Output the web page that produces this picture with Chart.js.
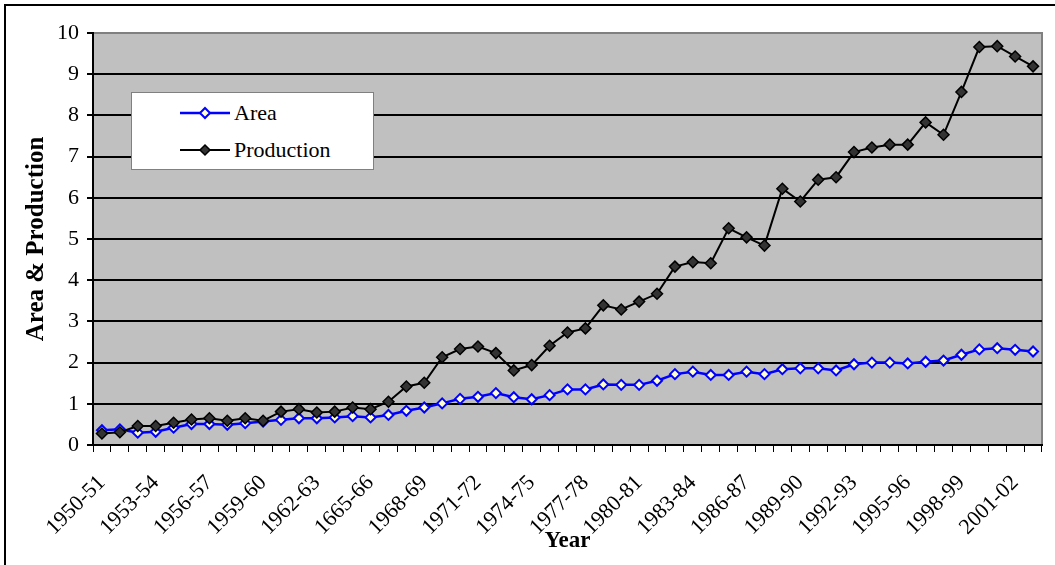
<!doctype html>
<html>
<head>
<meta charset="utf-8">
<title>Area &amp; Production</title>
<style>
  body { margin: 0; background: #fff; }
  #frame { position: absolute; left: 4px; top: 4px; width: 1200px; height: 700px;
           border-left: 2px solid #000; border-top: 2px solid #000; }
  #wrap { position: absolute; left: 0; top: 0; width: 1055px; height: 565px; }
  #legend { position: absolute; left: 131px; top: 92px; width: 241px; height: 76px;
            background: #fff; border: 1px solid #808080;
            font-family: "Liberation Serif", "Times New Roman", serif; font-size: 22px; color: #000; }
  #legend .row { position: absolute; left: 0; height: 30px; width: 100%; }
  #legend svg { position: absolute; left: 47px; top: 0; }
  #legend span { position: absolute; left: 102px; top: 2px; line-height: 26px; }
</style>
</head>
<body>
<div id="frame"></div>
<div id="wrap">
  <canvas id="chart" width="1055" height="565"></canvas>
  <div id="legend"></div>
</div>

<script src="https://cdn.jsdelivr.net/npm/chart.js"></script>
<script>

const years = ['1950-51','1951-52','1952-53','1953-54','1954-55','1955-56','1956-57','1957-58',
  '1958-59','1959-60','1960-61','1961-62','1962-63','1963-64','1964-65','1665-66','1966-67',
  '1967-68','1968-69','1969-70','1970-71','1971-72','1972-73','1973-74','1974-75','1975-76',
  '1976-77','1977-78','1978-79','1979-80','1980-81','1981-82','1982-83','1983-84','1984-85',
  '1985-86','1986-87','1987-88','1988-89','1989-90','1990-91','1991-92','1992-93','1993-94',
  '1994-95','1995-96','1996-97','1997-98','1998-99','1999-00','2000-01','2001-02','2002-03']

const area = [0.36, 0.38, 0.30, 0.32, 0.42, 0.51, 0.51, 0.49, 0.53, 0.57, 0.61, 0.65, 0.65, 0.67, 0.70, 0.67, 0.73,
  0.83, 0.91, 1.01, 1.12, 1.17, 1.26, 1.16, 1.11, 1.21, 1.35, 1.35, 1.47, 1.46, 1.46, 1.56, 1.72, 1.78,
  1.70, 1.70, 1.78, 1.72, 1.84, 1.86, 1.86, 1.81, 1.96, 2.00, 2.00, 1.98, 2.02, 2.05, 2.19, 2.32, 2.35, 2.31, 2.27]

const production = [0.28, 0.31, 0.46, 0.46, 0.54, 0.62, 0.65, 0.59, 0.65, 0.59, 0.81, 0.87, 0.79, 0.81, 0.91, 0.87, 1.05,
  1.42, 1.51, 2.13, 2.33, 2.39, 2.23, 1.81, 1.94, 2.41, 2.73, 2.83, 3.39, 3.29, 3.48, 3.67, 4.33, 4.44,
  4.41, 5.26, 5.04, 4.84, 6.22, 5.91, 6.44, 6.50, 7.11, 7.22, 7.29, 7.29, 7.83, 7.53, 8.57, 9.66, 9.68, 9.43, 9.19]

const yTicks = [0, 1, 2, 3, 4, 5, 6, 7, 8, 9, 10]

Chart.defaults.font.family = '"Liberation Serif", "Times New Roman", serif'
Chart.defaults.color = '#000'

// gray plot area with gray frame on top/right
const plotBg = {
  id: 'plotBg',
  beforeDraw(chart) {
    const { ctx, chartArea: a } = chart
    ctx.save()
    ctx.fillStyle = '#C0C0C0'
    ctx.fillRect(a.left, a.top, a.right - a.left, a.bottom - a.top)
    ctx.strokeStyle = '#808080'
    ctx.lineWidth = 2
    ctx.strokeRect(a.left, a.top, a.right - a.left, a.bottom - a.top)
    ctx.restore()
  }
}

const chart = new Chart(document.getElementById('chart'), {
  type: 'line',
  data: {
    labels: years,
    datasets: [
      {
        label: 'Area', data: area, order: 1,
        borderColor: '#0000FF', backgroundColor: '#FFFFC8', borderWidth: 2.5,
        pointStyle: 'rectRot', pointRadius: 5, pointBorderWidth: 2,
        pointBackgroundColor: '#FFFFC8', pointBorderColor: '#0000FF'
      },
      {
        label: 'Production', data: production, order: 0,
        borderColor: '#000', backgroundColor: '#333', borderWidth: 2,
        pointStyle: 'rectRot', pointRadius: 5.5, pointBorderWidth: 1.5,
        pointBackgroundColor: '#333', pointBorderColor: '#000'
      }
    ]
  },
  options: {
    responsive: false,
    animation: false,
    layout: { padding: { left: 0, top: 33, right: 13, bottom: 10 } },
    plugins: { legend: { display: false }, tooltip: { enabled: false } },
    scales: {
      x: {
        offset: true,
        grid: { offset: true, drawOnChartArea: false, drawTicks: true, tickLength: 7, color: '#000', lineWidth: 1 },
        border: { color: '#000', width: 2 },
        ticks: {
          autoSkip: false, maxRotation: 45, minRotation: 45, padding: 18,
          font: { size: 22 }, color: '#000',
          callback: (v, i) => i % 3 === 0 ? years[i] : ''
        },
        title: { display: true, text: 'Year', font: { size: 23, weight: 'bold' }, color: '#000', padding: 0 },
        afterFit: s => { s.height = 110; s.paddingLeft = 0; s.paddingRight = 0 }
      },
      y: {
        min: 0, max: 10,
        afterBuildTicks: s => { s.ticks = yTicks.map(v => ({ value: v })) },
        ticks: { font: { size: 22 }, color: '#000', padding: 8 },
        grid: {
          color: c => c.tick && c.tick.value === 10 ? '#808080' : '#000',
          lineWidth: 2, tickColor: '#000', tickLength: 6, drawTicks: true
        },
        border: { color: '#000', width: 2 },
        title: { display: true, text: 'Area & Production', font: { size: 25, weight: 'bold' }, color: '#000',
          padding: { top: 22, bottom: 0 } },
        afterFit: s => { s.width = 93 }
      }
    }
  },
  plugins: [plotBg]
})

// html legend built from the datasets
const legend = document.getElementById('legend')
chart.data.datasets.forEach((ds, i) => {
  const row = document.createElement('div')
  row.className = 'row'
  row.style.top = (5 + i * 37) + 'px'
  row.innerHTML =
    '<svg width="52" height="30"><line x1="1" y1="15" x2="51" y2="15" stroke="' + ds.borderColor +
    '" stroke-width="' + ds.borderWidth + '"/><polygon points="26,10 31,15 26,20 21,15" fill="' + ds.pointBackgroundColor +
    '" stroke="' + ds.pointBorderColor + '" stroke-width="' + ds.pointBorderWidth + '"/></svg><span>' + ds.label + '</span>'
  legend.appendChild(row)
})

</script>
</body>
</html>
